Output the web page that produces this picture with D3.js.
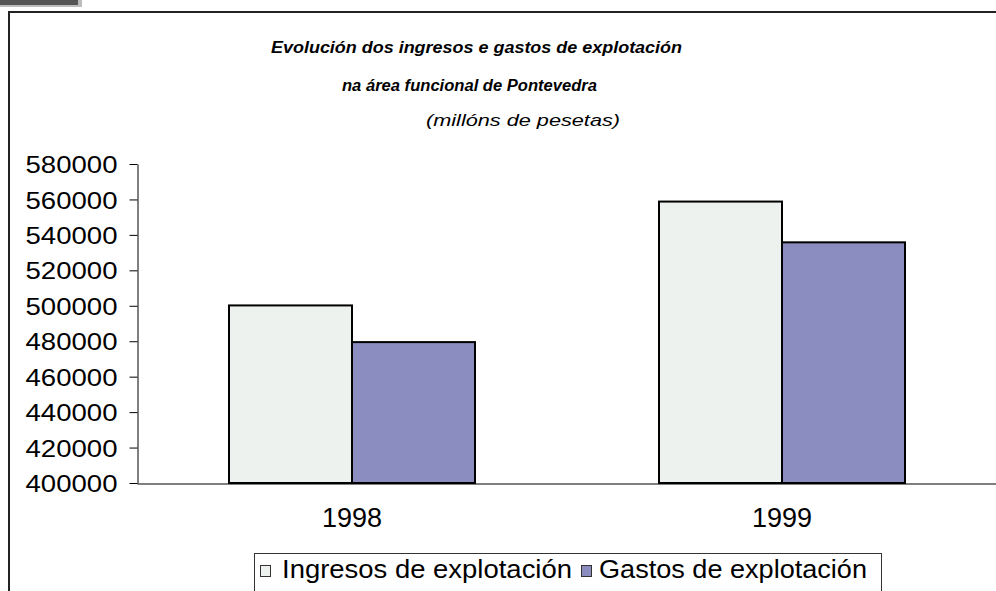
<!DOCTYPE html>
<html>
<head>
<meta charset="utf-8">
<script src="https://cdn.jsdelivr.net/npm/d3@7"></script>
<style>
  body { margin: 0; background: #fff; }
  text { font-family: 'Liberation Sans', Arial, sans-serif; fill: #000; }
</style>
</head>
<body>
<div id="main"></div>
<script>
// data
var years = ['1998', '1999'];
var seriesNames = ['Ingresos de explotación', 'Gastos de explotación'];
var ingresos = [500200, 558800];
var gastos = [479500, 535800];
var yTicks = [400000, 420000, 440000, 460000, 480000, 500000, 520000, 540000, 560000, 580000];
var titleLines = ['Evolución dos ingresos e gastos de explotación', 'na área funcional de Pontevedra', '(millóns de pesetas)'];

// layout
var svgWidth = 996;
var svgHeight = 591;
var plot = { l: 137, r: 997, t: 164, b: 483 };
var colors = ['#edf2ef', '#8b8cc0'];

var svg = d3.select('#main')
  .append('svg')
  .attr('width', svgWidth)
  .attr('height', svgHeight);

// little grey tab in the corner + frame
svg.append('rect').attr('x', 0).attr('y', 0).attr('width', 82).attr('height', 7).attr('fill', '#bdbdbd');
svg.append('rect').attr('x', 0).attr('y', 0).attr('width', 78).attr('height', 5).attr('fill', '#555');
svg.append('path')
  .attr('d', 'M9,600 V12 H1000')
  .attr('fill', 'none')
  .attr('stroke', '#222')
  .attr('stroke-width', 2);

// title
var titleSpecs = [
  { x: 271, y: 53, len: 411, size: 16, weight: 'bold' },
  { x: 342, y: 91, len: 255, size: 16, weight: 'bold' },
  { x: 426, y: 126, len: 194, size: 17, weight: 'normal' }
];
titleLines.forEach(function (t, i) {
  var s = titleSpecs[i];
  svg.append('text')
    .attr('x', s.x)
    .attr('y', s.y)
    .attr('textLength', s.len)
    .attr('lengthAdjust', 'spacingAndGlyphs')
    .style('font-size', s.size + 'px')
    .style('font-style', 'italic')
    .style('font-weight', s.weight)
    .text(t);
});

// scales
var xScale = d3.scaleBand()
  .domain(years)
  .range([plot.l, plot.r]);

var xInner = d3.scaleBand()
  .domain(d3.range(seriesNames.length))
  .range([0, xScale.bandwidth()])
  .paddingOuter(0.748);

var yScale = d3.scaleLinear()
  .domain([400000, 580000])
  .range([plot.b, plot.t]);

// bars
var rows = years.map(function (y, i) { return { year: y, values: [ingresos[i], gastos[i]] }; });

var groups = svg.append('g')
  .selectAll('g')
  .data(rows)
  .enter()
  .append('g')
  .attr('transform', function (d) { return 'translate(' + xScale(d.year) + ',0)'; });

groups.selectAll('rect')
  .data(function (d) { return d.values; })
  .enter()
  .append('rect')
  .attr('x', function (d, i) { return xInner(i); })
  .attr('y', function (d) { return yScale(d); })
  .attr('width', xInner.bandwidth())
  .attr('height', function (d) { return yScale(400000) - yScale(d); })
  .attr('fill', function (d, i) { return colors[i]; })
  .attr('stroke', '#000')
  .attr('stroke-width', 2);

// y axis
var yAxis = d3.axisLeft(yScale)
  .tickValues(yTicks)
  .tickSize(8)
  .tickSizeOuter(0)
  .tickFormat(d3.format('d'));

var yG = svg.append('g')
  .attr('transform', 'translate(' + (plot.l + 0.5) + ',0)')
  .call(yAxis);

yG.select('.domain').attr('stroke', '#000');
yG.selectAll('.tick line').attr('stroke', '#000');
yG.selectAll('.tick text')
  .attr('x', -20)
  .attr('dy', '0.36em')
  .attr('textLength', 92)
  .attr('lengthAdjust', 'spacingAndGlyphs')
  .style('font-size', '24px')
  .attr('font-family', null);

// x axis (line + category labels)
var xAxis = d3.axisBottom(xScale)
  .tickSize(0)
  .tickSizeOuter(0);

var xG = svg.append('g')
  .attr('transform', 'translate(0,' + (plot.b + 0.5) + ')')
  .call(xAxis);

xG.select('.domain').attr('stroke', '#000');
xG.selectAll('.tick text')
  .attr('y', 43)
  .attr('dy', 0)
  .style('font-size', '27px')
  .attr('font-family', null);

// legend
var legend = svg.append('g');

legend.append('rect')
  .attr('x', 254.5)
  .attr('y', 553.5)
  .attr('width', 627)
  .attr('height', 60)
  .attr('fill', '#fff')
  .attr('stroke', '#333')
  .attr('stroke-width', 1);

var legendItems = [
  { sx: 260.5, tx: 282, len: 290 },
  { sx: 581.5, tx: 599, len: 268 }
];

seriesNames.forEach(function (name, i) {
  var it = legendItems[i];
  legend.append('rect')
    .attr('x', it.sx)
    .attr('y', 565.5)
    .attr('width', 10)
    .attr('height', 11)
    .attr('fill', colors[i])
    .attr('stroke', '#333')
    .attr('stroke-width', 1);
  legend.append('text')
    .attr('x', it.tx)
    .attr('y', 577.5)
    .attr('textLength', it.len)
    .attr('lengthAdjust', 'spacingAndGlyphs')
    .style('font-size', '26px')
    .text(name);
});
</script>
</body>
</html>
